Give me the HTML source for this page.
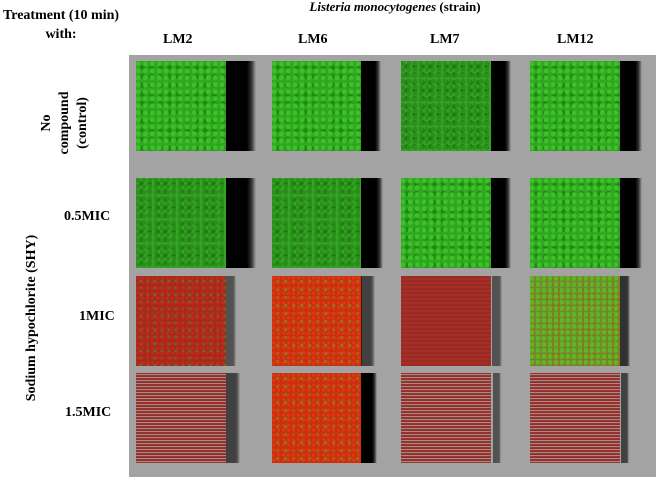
<!DOCTYPE html>
<html><head><style>
body{margin:0;width:658px;height:477px;background:#fff;position:relative;overflow:hidden;font-family:"Liberation Serif",serif;font-weight:bold;color:#000}
.t{position:absolute;font-size:14px;white-space:nowrap}
.panel{position:absolute;left:129px;top:55px;width:527px;height:422px;background:#a3a3a3}
.tile{position:absolute;width:90px;height:90px}
.blk{position:absolute;height:90px;background:linear-gradient(90deg,#000 70%,#333 85%,rgba(60,60,60,0))}
.g{background:radial-gradient(circle at 30% 40%,#3fbf2a 0 2px,transparent 3px) 0 0/7px 7px,radial-gradient(circle at 70% 70%,#1e8a12 0 2px,transparent 3px) 0 0/9px 9px,#2fa81f}
.g2{background:radial-gradient(circle at 30% 40%,#2c8f1c 0 2px,transparent 3px) 0 0/6px 6px,radial-gradient(circle at 70% 70%,#1e7a12 0 2px,transparent 3px) 0 0/8px 8px,#32a522}
.r{background:radial-gradient(circle at 30% 40%,#c22a1a 0 1px,transparent 2px) 0 0/5px 5px,radial-gradient(circle at 70% 70%,#6a6a2a 0 1px,transparent 2px) 0 0/7px 7px,#a8281c}
.ro{background:radial-gradient(circle at 30% 40%,#e03a10 0 1px,transparent 2px) 0 0/5px 5px,radial-gradient(circle at 70% 70%,#7a8a20 0 1px,transparent 2px) 0 0/8px 8px,#c8300f}
.rd{background:repeating-linear-gradient(0deg,#9c2a22 0 2px,#a33028 2px 4px)}
.mx{background:radial-gradient(circle at 30% 40%,#5fb52a 0 2px,transparent 3px) 0 0/6px 6px,radial-gradient(circle at 70% 70%,#9a6a1a 0 1px,transparent 2px) 0 0/5px 5px,#6e8c28}
.st{background:repeating-linear-gradient(0deg,#8c3a38 0 1px,#a88a88 1px 2px,#a02a22 2px 3px)}
</style></head><body>
<div class="t" style="left:0;top:6px;width:122px;text-align:center;line-height:19px">Treatment (10 min)<br>with:</div>
<div class="t" style="left:250px;top:0px;width:290px;text-align:center;font-size:13px;line-height:14px"><i>Listeria monocytogenes</i> (strain)</div>
<div class="t" style="left:163px;top:32px">LM2</div>
<div class="t" style="left:298px;top:32px">LM6</div>
<div class="t" style="left:430px;top:32px">LM7</div>
<div class="t" style="left:557px;top:32px">LM12</div>
<div class="t" style="left:10px;top:96px;width:110px;text-align:center;line-height:18px;transform:rotate(-90deg)">No<br>compound<br>(control)</div>
<div class="t" style="left:-58px;top:310px;width:180px;text-align:center;transform:rotate(-90deg)">Sodium hypochlorite (SHY)</div>
<div class="t" style="left:64px;top:209px">0.5MIC</div>
<div class="t" style="left:79px;top:309px">1MIC</div>
<div class="t" style="left:65px;top:405px">1.5MIC</div>
<div class="panel"></div>
<div class="tile g" style="left:136px;top:61px"></div><div class="blk" style="left:226px;top:61px;width:30px"></div>
<div class="tile g" style="left:272px;top:61px"></div><div class="blk" style="left:361px;top:61px;width:20px"></div>
<div class="tile g2" style="left:401px;top:61px"></div><div class="blk" style="left:491px;top:61px;width:20px"></div>
<div class="tile g" style="left:530px;top:61px"></div><div class="blk" style="left:620px;top:61px;width:22px"></div>
<div class="tile g2" style="left:136px;top:178px"></div><div class="blk" style="left:226px;top:178px;width:30px"></div>
<div class="tile g2" style="left:272px;top:178px"></div><div class="blk" style="left:361px;top:178px;width:22px"></div>
<div class="tile g" style="left:401px;top:178px"></div><div class="blk" style="left:491px;top:178px;width:20px"></div>
<div class="tile g" style="left:530px;top:178px"></div><div class="blk" style="left:620px;top:178px;width:22px"></div>
<div class="tile r" style="left:136px;top:276px"></div><div class="blk" style="left:226px;top:276px;width:10px;opacity:.5"></div>
<div class="tile ro" style="left:272px;top:276px"></div><div class="blk" style="left:361px;top:276px;width:14px;opacity:.6"></div>
<div class="tile rd" style="left:401px;top:276px"></div><div class="blk" style="left:492px;top:276px;width:10px;opacity:.5"></div>
<div class="tile mx" style="left:530px;top:276px"></div><div class="blk" style="left:620px;top:276px;width:10px;opacity:.7"></div>
<div class="tile st" style="left:136px;top:373px"></div><div class="blk" style="left:226px;top:373px;width:14px;opacity:.6"></div>
<div class="tile ro" style="left:272px;top:373px"></div><div class="blk" style="left:361px;top:373px;width:16px"></div>
<div class="tile st" style="left:401px;top:373px"></div><div class="blk" style="left:493px;top:373px;width:8px;opacity:.5"></div>
<div class="tile st" style="left:530px;top:373px"></div><div class="blk" style="left:621px;top:373px;width:8px;opacity:.6"></div>
</body></html>
